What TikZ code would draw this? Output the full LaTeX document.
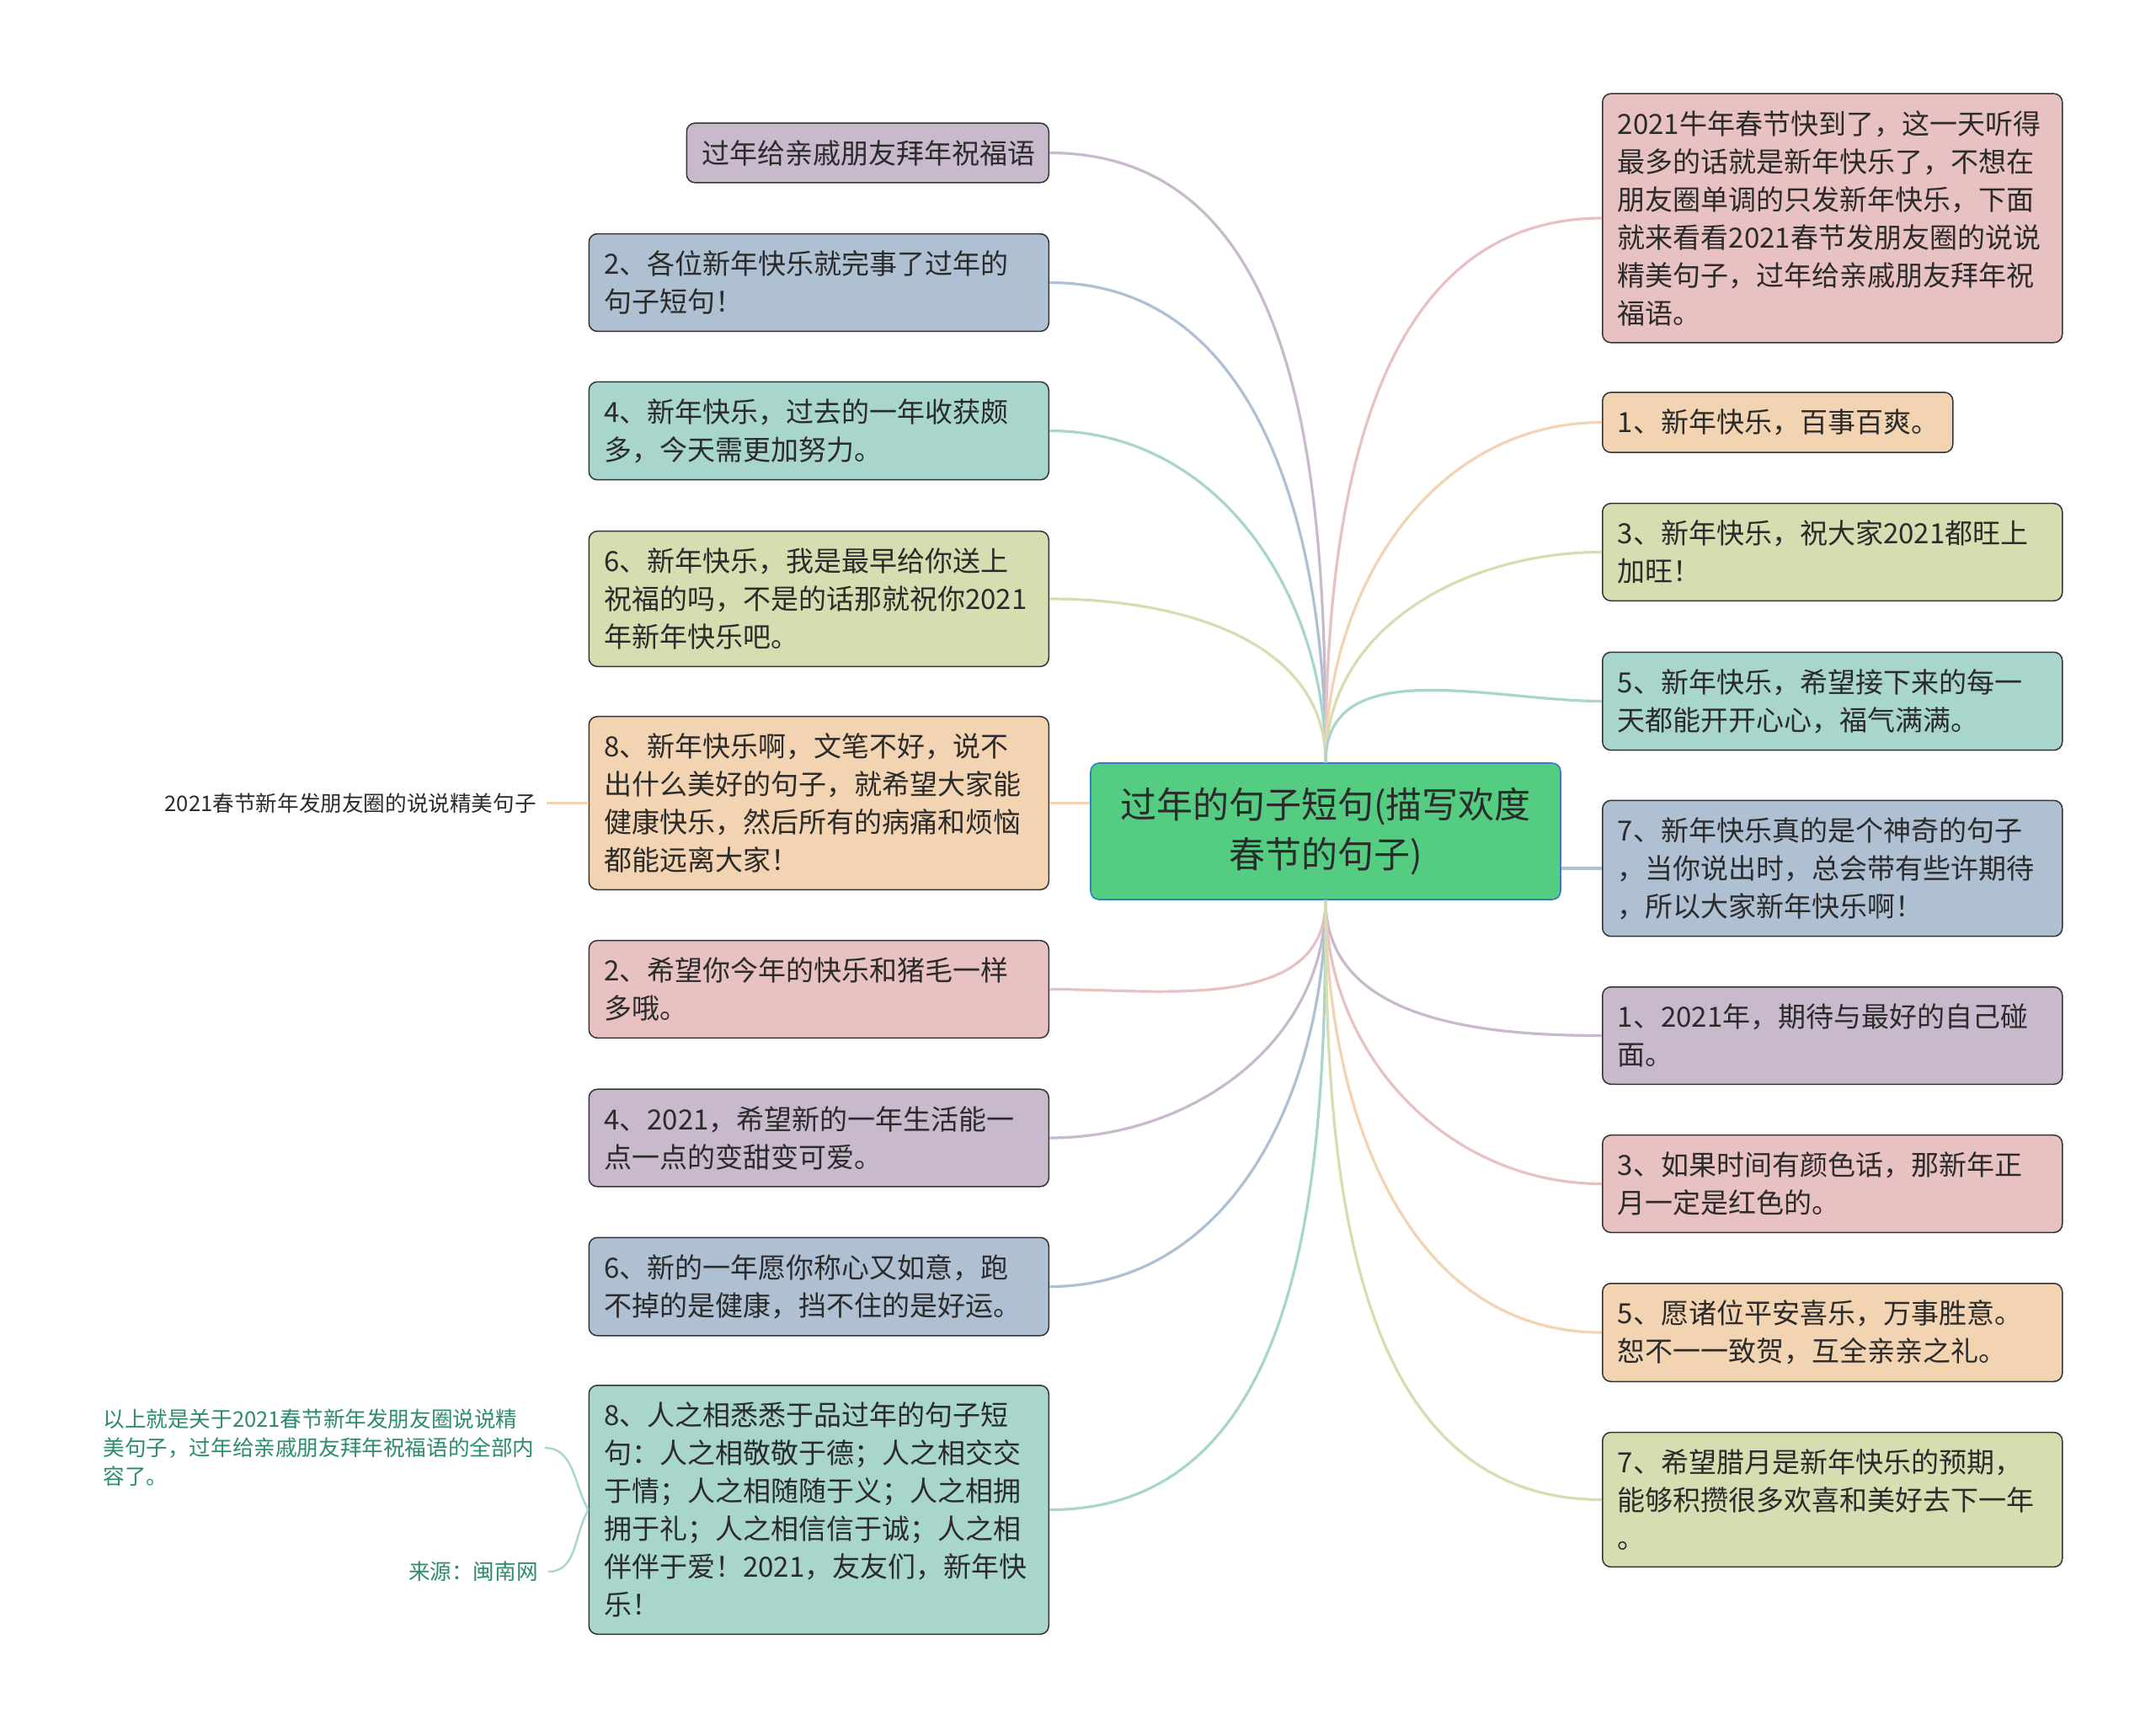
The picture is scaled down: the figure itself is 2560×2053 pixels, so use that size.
\documentclass[tikz,border=0pt]{standalone}
\usepackage{fontspec}
\setmainfont{Noto Sans CJK SC}
\usepackage{xcolor}
\usetikzlibrary{positioning,calc}
\definecolor{Ink}{HTML}{2B2B2B}
\definecolor{Rim}{HTML}{333333}
\definecolor{Mauve}{HTML}{C9B9CC}
\definecolor{Slate}{HTML}{AFC0D3}
\definecolor{Mint}{HTML}{A8D5CC}
\definecolor{Olive}{HTML}{D7DDB0}
\definecolor{Peach}{HTML}{F2D3B2}
\definecolor{Rose}{HTML}{E8C1C3}
\definecolor{Leaf}{HTML}{54CD82}
\definecolor{Sky}{HTML}{2F7FD0}
\definecolor{Note}{HTML}{2E8B70}
\tikzset{
  topic/.style={draw=Sky,fill=Leaf,rounded corners=5pt,line width=0.8pt,minimum width=279pt,minimum height=81pt,align=center,text=Ink,font=\fontsize{21.5}{29.5}\selectfont},
  card/.style={draw=Rim,fill=#1,rounded corners=5pt,line width=0.75pt,text width=255pt,inner xsep=9pt,inner ysep=10pt,align=left,text=Ink,font=\fontsize{16.5}{22.5}\selectfont},
  link/.style={draw=#1,line width=1.6pt},
  plain/.style={inner xsep=6pt,inner ysep=0pt,text=Ink,font=\fontsize{12.8}{17}\selectfont},
  remark/.style={inner xsep=6pt,inner ysep=0pt,align=left,text=Note,font=\fontsize{12.8}{17}\selectfont}
}

\begin{document}
\begin{tikzpicture}[x=0.5pt,y=-0.5pt]
  \fill[white] (0,0) rectangle (2560,2053);
  \useasboundingbox (0,0) rectangle (2560,2053);

  \node[topic] (root) at (1574,987) {过年的句子短句(描写欢度\\春节的句子)};

  % left side
  \node[card=Mauve,text width=197pt,anchor=east] (l1) at (1246,181.5) {过年给亲戚朋友拜年祝福语};
  \node[card=Slate,anchor=east] (l2) at (1246,335.5) {2、各位新年快乐就完事了过年的\\句子短句！};
  \node[card=Mint,anchor=east] (l3) at (1246,511.5) {4、新年快乐，过去的一年收获颇\\多，今天需更加努力。};
  \node[card=Olive,anchor=east] (l4) at (1246,711) {6、新年快乐，我是最早给你送上\\祝福的吗，不是的话那就祝你2021\\年新年快乐吧。};
  \node[card=Peach,anchor=east] (l5) at (1246,953.5) {8、新年快乐啊，文笔不好，说不\\出什么美好的句子，就希望大家能\\健康快乐，然后所有的病痛和烦恼\\都能远离大家！};
  \node[card=Rose,anchor=east] (l6) at (1246,1174.5) {2、希望你今年的快乐和猪毛一样\\多哦。};
  \node[card=Mauve,anchor=east] (l7) at (1246,1351) {4、2021，希望新的一年生活能一\\点一点的变甜变可爱。};
  \node[card=Slate,anchor=east] (l8) at (1246,1527.5) {6、新的一年愿你称心又如意，跑\\不掉的是健康，挡不住的是好运。};
  \node[card=Mint,anchor=east] (l9) at (1246,1792.5) {8、人之相悉悉于品过年的句子短\\句：人之相敬敬于德；人之相交交\\于情；人之相随随于义；人之相拥\\拥于礼；人之相信信于诚；人之相\\伴伴于爱！2021，友友们，新年快\\乐！};

  % right side
  \node[card=Rose,anchor=west] (r1) at (1902,259) {2021牛年春节快到了，这一天听得\\最多的话就是新年快乐了，不想在\\朋友圈单调的只发新年快乐，下面\\就来看看2021春节发朋友圈的说说\\精美句子，过年给亲戚朋友拜年祝\\福语。};
  \node[card=Peach,text width=190pt,anchor=west] (r2) at (1902,501.5) {1、新年快乐，百事百爽。};
  \node[card=Olive,anchor=west] (r3) at (1902,655.5) {3、新年快乐，祝大家2021都旺上\\加旺！};
  \node[card=Mint,anchor=west] (r4) at (1902,832.5) {5、新年快乐，希望接下来的每一\\天都能开开心心，福气满满。};
  \node[card=Slate,anchor=west] (r5) at (1902,1031) {7、新年快乐真的是个神奇的句子\\，当你说出时，总会带有些许期待\\，所以大家新年快乐啊！};
  \node[card=Mauve,anchor=west] (r6) at (1902,1229.5) {1、2021年，期待与最好的自己碰\\面。};
  \node[card=Rose,anchor=west] (r7) at (1902,1405.5) {3、如果时间有颜色话，那新年正\\月一定是红色的。};
  \node[card=Peach,anchor=west] (r8) at (1902,1582) {5、愿诸位平安喜乐，万事胜意。\\恕不一一致贺，互全亲亲之礼。};
  \node[card=Olive,anchor=west] (r9) at (1902,1780.5) {7、希望腊月是新年快乐的预期，\\能够积攒很多欢喜和美好去下一年\\。};

  % notes on the left
  \node[plain,anchor=east] (side) at (649,953.5) {2021春节新年发朋友圈的说说精美句子};
  \node[remark,anchor=west] (note) at (110,1719) {以上就是关于2021春节新年发朋友圈说说精\\美句子，过年给亲戚朋友拜年祝福语的全部内\\容了。};
  \node[remark,anchor=east] (src) at (651,1866) {来源：闽南网};

  \draw[link=Mauve] (root.north) to[out=90,in=0] (l1.east);
  \draw[link=Slate] (root.north) to[out=90,in=0] (l2.east);
  \draw[link=Mint] (root.north) to[out=90,in=0] (l3.east);
  \draw[link=Olive] (root.north) to[out=90,in=0] (l4.east);
  \draw[link=Peach] (root.west |- l5.east) -- (l5.east);
  \draw[link=Rose] (root.south) to[out=-90,in=0] (l6.east);
  \draw[link=Mauve] (root.south) to[out=-90,in=0] (l7.east);
  \draw[link=Slate] (root.south) to[out=-90,in=0] (l8.east);
  \draw[link=Mint] (root.south) to[out=-90,in=0] (l9.east);

  \draw[link=Rose] (root.north) to[out=90,in=180] (r1.west);
  \draw[link=Peach] (root.north) to[out=90,in=180] (r2.west);
  \draw[link=Olive] (root.north) to[out=90,in=180] (r3.west);
  \draw[link=Mint] (root.north) to[out=90,in=180] (r4.west);
  \draw[link=Slate] (root.east |- r5.west) -- (r5.west);
  \draw[link=Mauve] (root.south) to[out=-90,in=180] (r6.west);
  \draw[link=Rose] (root.south) to[out=-90,in=180] (r7.west);
  \draw[link=Peach] (root.south) to[out=-90,in=180] (r8.west);
  \draw[link=Olive] (root.south) to[out=-90,in=180] (r9.west);

  \draw[link=Peach,line width=1.2pt] (side.east) -- (l5.west);
  \draw[link=Mint,line width=1.2pt] (note.east) to[out=0,in=120] (l9.west);
  \draw[link=Mint,line width=1.2pt] (src.east) to[out=0,in=-120] (l9.west);
\end{tikzpicture}
\end{document}
